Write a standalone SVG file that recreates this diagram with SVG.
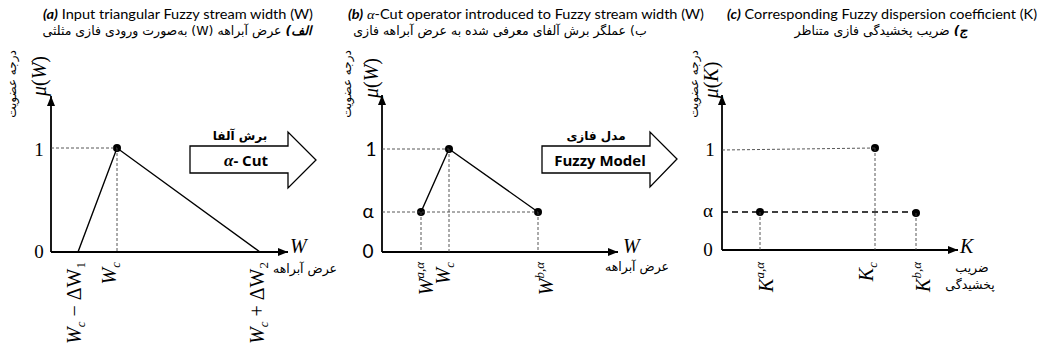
<svg xmlns="http://www.w3.org/2000/svg" width="1041" height="352" viewBox="0 0 1041 352">
<defs>
<marker id="ah" viewBox="0 0 10 8" refX="10" refY="4" markerWidth="10" markerHeight="8" markerUnits="userSpaceOnUse" orient="auto">
<path d="M0,0 L10,4 L0,8 z" fill="#000"/>
</marker>
<style>
.title{font-family:Lato,"Liberation Sans",sans-serif;font-size:13.5px;fill:#000}
.fa{font-family:"DejaVu Sans",sans-serif;font-size:12.5px;fill:#000}
.fal{font-family:"DejaVu Sans",sans-serif;font-size:12px;fill:#000}
.axis{stroke:#000;stroke-width:1.8;fill:none;marker-end:url(#ah)}
.curve{stroke:#000;stroke-width:1.4;fill:none}
.dash{stroke:#444;stroke-width:0.9;stroke-dasharray:3 2;fill:none}
.bdash{stroke:#000;stroke-width:1.4;stroke-dasharray:6 4;fill:none}
.dot{fill:#000}
.num{font-family:"Liberation Serif",serif;font-size:19px;fill:#000}
.nums{font-family:Lato,"Liberation Sans",sans-serif;font-size:19px;fill:#000}
.math{font-family:"Liberation Serif",serif;font-style:italic;font-size:20px;fill:#000}
.up{font-style:normal}
.blk{fill:#fff;stroke:#000;stroke-width:1.3}
.btxt{font-family:"Open Sans","Liberation Sans",sans-serif;font-weight:bold;font-size:15px;fill:#000}
.fab{font-family:"DejaVu Sans",sans-serif;font-weight:bold;font-size:12px;fill:#000}
</style>
</defs>

<!-- Titles -->
<g id="title-a">
<text class="title" x="178" y="19" text-anchor="middle" textLength="270" lengthAdjust="spacingAndGlyphs"><tspan font-weight="bold" font-style="italic">(a)</tspan> Input triangular Fuzzy stream width (W)</text>
<text class="fa" x="177" y="35" text-anchor="middle" direction="rtl"><tspan font-style="italic" font-weight="bold">الف)</tspan> عرض آبراهه (W) به‌صورت ورودی فازی مثلثی</text>
</g>
<g id="title-b">
<text class="title" x="526" y="19" text-anchor="middle" textLength="356" lengthAdjust="spacingAndGlyphs"><tspan font-weight="bold" font-style="italic">(b)</tspan> <tspan font-family="Liberation Serif" font-style="italic">α</tspan>-Cut operator introduced to Fuzzy stream width (W)</text>
<text class="fa" x="500" y="35" text-anchor="middle" direction="rtl">ب) عملگر برش آلفای معرفی شده به عرض آبراهه فازی</text>
</g>
<g id="title-c">
<text class="title" x="882" y="19" text-anchor="middle" textLength="310" lengthAdjust="spacingAndGlyphs"><tspan font-weight="bold" font-style="italic">(c)</tspan> Corresponding Fuzzy  dispersion coefficient (K)</text>
<text class="fa" x="881" y="35" text-anchor="middle" direction="rtl"><tspan font-style="italic" font-weight="bold">ج)</tspan> ضریب پخشیدگی فازی متناظر</text>
</g>

<!-- Panel A -->
<g id="panel-a">
<text class="fal" transform="translate(16,84) rotate(-90)" text-anchor="middle" direction="rtl">درجه عضویت</text>
<text class="math" transform="translate(46,76) rotate(-90)" text-anchor="middle">μ<tspan class="up">(</tspan>W<tspan class="up">)</tspan></text>
<text class="num" x="39" y="156" text-anchor="middle">1</text>
<text class="num" x="39" y="258" text-anchor="middle">0</text>
<text class="math" x="290" y="253">W</text>
<text class="fa" x="305" y="273" text-anchor="middle" direction="rtl" font-size="11">عرض آبراهه</text>
<text class="math" transform="translate(81,262) rotate(-90)" text-anchor="end">W<tspan font-size="13" dy="4">c</tspan><tspan class="up" dy="-4"> − ΔW</tspan><tspan class="up" font-size="13" dy="4">1</tspan></text>
<text class="math" transform="translate(116,262) rotate(-90)" text-anchor="end">W<tspan font-size="13" dy="4">c</tspan></text>
<text class="math" transform="translate(264,262) rotate(-90)" text-anchor="end">W<tspan font-size="13" dy="4">c</tspan><tspan class="up" dy="-4"> + ΔW</tspan><tspan class="up" font-size="13" dy="4">2</tspan></text>
</g>
<g id="panel-a-curve">
<polyline class="curve" points="78,252 117,148 260,252"/>
<circle class="dot" cx="117" cy="148" r="4"/>
</g>

<!-- Arrow A -->
<g id="arrow-cut">
<polygon class="blk" points="190,146 288,146 288,132 316,160 288,188 288,173 190,173"/>
<text class="fab" x="240" y="140" text-anchor="middle" direction="rtl">برش آلفا</text>
<text class="btxt" x="246" y="166" text-anchor="middle"><tspan font-family="Liberation Serif" font-style="italic" font-size="17">α</tspan>- Cut</text>
</g>

<!-- Panel B -->
<g id="panel-b">
<text class="fal" transform="translate(351,84) rotate(-90)" text-anchor="middle" direction="rtl">درجه عضویت</text>
<text class="math" transform="translate(378,78) rotate(-90)" text-anchor="middle">μ<tspan class="up">(</tspan>W<tspan class="up">)</tspan></text>
<text class="nums" x="371" y="156" text-anchor="middle">1</text>
<text class="nums" x="368" y="218" text-anchor="middle">α</text>
<text class="nums" x="368" y="258" text-anchor="middle">0</text>
<text class="math" x="623" y="253">W</text>
<text class="fa" x="637" y="271" text-anchor="middle" direction="rtl" font-size="11">عرض آبراهه</text>
<text class="math" transform="translate(433,262) rotate(-90)" text-anchor="end">W<tspan font-size="13" dy="-9">a,α</tspan></text>
<text class="math" transform="translate(450,262) rotate(-90)" text-anchor="end">W<tspan font-size="13" dy="4">c</tspan></text>
<text class="math" transform="translate(553,262) rotate(-90)" text-anchor="end">W<tspan font-size="13" dy="-9">b,α</tspan></text>
</g>
<g id="panel-b-curve">
<polyline class="curve" points="421,212 449,149 538,212"/>
<circle class="dot" cx="421" cy="212" r="4"/>
<circle class="dot" cx="449" cy="149" r="4"/>
<circle class="dot" cx="538" cy="212" r="4"/>
</g>

<!-- Arrow B -->
<g id="arrow-model">
<polygon class="blk" points="542,146 650,146 650,132 677,159 650,187 650,173 542,173"/>
<text class="fab" x="596" y="140" text-anchor="middle" direction="rtl">مدل فازی</text>
<text class="btxt" x="600" y="166" text-anchor="middle" font-size="16">Fuzzy Model</text>
</g>

<!-- Panel C -->
<g id="panel-c">
<text class="fal" transform="translate(698,84) rotate(-90)" text-anchor="middle" direction="rtl">درجه عضویت</text>
<text class="math" transform="translate(718,80) rotate(-90)" text-anchor="middle">μ<tspan class="up">(</tspan>K<tspan class="up">)</tspan></text>
<text class="num" x="710" y="156" text-anchor="middle">1</text>
<text class="num" x="708" y="217" text-anchor="middle">α</text>
<text class="num" x="708" y="256" text-anchor="middle">0</text>
<text class="math" x="960" y="253">K</text>
<text class="fa" x="972" y="272" text-anchor="middle" direction="rtl" font-size="11">ضریب</text>
<text class="fa" x="970" y="289" text-anchor="middle" direction="rtl" font-size="11">پخشیدگی</text>
<text class="math" transform="translate(773,262) rotate(-90)" text-anchor="end">K<tspan font-size="13" dy="-9">a,α</tspan></text>
<text class="math" transform="translate(873,262) rotate(-90)" text-anchor="end">K<tspan font-size="13" dy="4">c</tspan></text>
<text class="math" transform="translate(930,262) rotate(-90)" text-anchor="end">K<tspan font-size="13" dy="-9">b,α</tspan></text>
</g>
<g id="panel-c-points">
<circle class="dot" cx="760" cy="212" r="4"/>
<circle class="dot" cx="875" cy="148" r="4"/>
<circle class="dot" cx="916" cy="213" r="4"/>
</g>

<!-- Connectors: axes and guide lines -->
<g id="connectors">
<line class="axis" x1="51" y1="252" x2="51" y2="96"/>
<line class="axis" x1="51" y1="252" x2="288" y2="252"/>
<line class="dash" x1="51" y1="148" x2="117" y2="148"/>
<line class="dash" x1="117" y1="148" x2="117" y2="252"/>

<line class="axis" x1="382" y1="252" x2="382" y2="95"/>
<line class="axis" x1="382" y1="252" x2="618" y2="252"/>
<line class="dash" x1="382" y1="149" x2="449" y2="149"/>
<line class="dash" x1="382" y1="212" x2="538" y2="212"/>
<line class="dash" x1="421" y1="212" x2="421" y2="252"/>
<line class="dash" x1="449" y1="149" x2="449" y2="252"/>
<line class="dash" x1="538" y1="212" x2="538" y2="252"/>

<line class="axis" x1="722" y1="250" x2="722" y2="95"/>
<line class="axis" x1="722" y1="250" x2="958" y2="250"/>
<line class="dash" x1="722" y1="150" x2="875" y2="148"/>
<line class="bdash" x1="722" y1="212" x2="916" y2="212"/>
<line class="dash" x1="760" y1="212" x2="760" y2="250"/>
<line class="dash" x1="875" y1="148" x2="875" y2="250"/>
<line class="dash" x1="916" y1="213" x2="916" y2="250"/>
</g>
</svg>
